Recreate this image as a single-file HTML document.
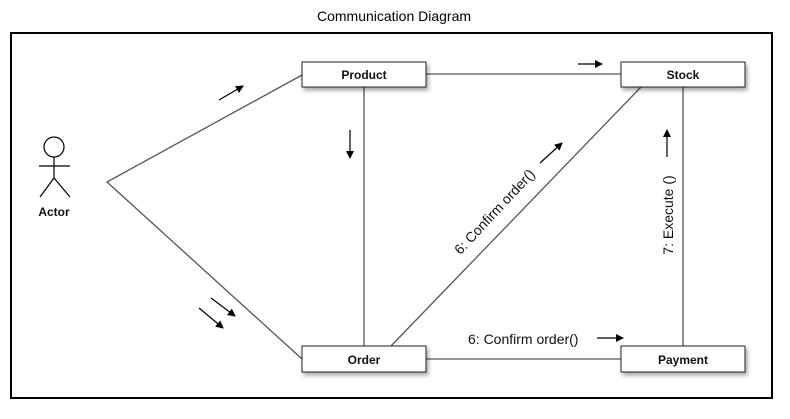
<!DOCTYPE html>
<html><head><style>
body{margin:0;background:#fff;}
svg{display:block;}
</style></head><body>
<svg width="790" height="419" xmlns="http://www.w3.org/2000/svg" font-family="Liberation Sans, sans-serif">
<defs>
<marker id="a" markerWidth="8" markerHeight="8" refX="7" refY="4" orient="auto" markerUnits="userSpaceOnUse"><path d="M0,0 L8,4 L0,8 z" fill="#000"/></marker>
<filter id="s" x="-10%" y="-20%" width="130%" height="160%"><feDropShadow dx="2" dy="3" stdDeviation="2" flood-color="#000" flood-opacity="0.35"/></filter>
</defs>
<text x="394" y="21" font-size="14" text-anchor="middle">Communication Diagram</text>
<rect x="11" y="33" width="761" height="365" fill="none" stroke="#000" stroke-width="2"/>
<g stroke="#555" stroke-width="1.3" fill="none">
<polyline points="302,75 107,182 302,359"/>
<line x1="426" y1="74" x2="621" y2="74"/>
<line x1="364" y1="87" x2="364" y2="346"/>
<line x1="391" y1="346" x2="641" y2="87"/>
<line x1="683" y1="87" x2="683" y2="346"/>
<line x1="426" y1="359" x2="621" y2="359"/>
</g>
<g fill="#fff" stroke="#222" stroke-width="1" filter="url(#s)">
<rect x="302" y="62" width="124" height="25"/>
<rect x="621" y="62" width="124" height="25"/>
<rect x="302" y="346" width="124" height="26"/>
<rect x="621" y="346" width="124" height="26"/>
</g>
<g font-size="12" font-weight="bold" text-anchor="middle" fill="#111">
<text x="364" y="79">Product</text>
<text x="683" y="79">Stock</text>
<text x="364" y="364">Order</text>
<text x="683" y="364">Payment</text>
<text x="54" y="216">Actor</text>
</g>
<g stroke="#000" stroke-width="1.2" fill="none">
<circle cx="54" cy="147" r="10" fill="#fff"/>
<line x1="54" y1="157" x2="54" y2="178"/>
<line x1="39" y1="166" x2="70" y2="166"/>
<line x1="54" y1="178" x2="40" y2="197"/>
<line x1="54" y1="178" x2="70" y2="197"/>
</g>
<g stroke="#000" stroke-width="1.2" marker-end="url(#a)">
<line x1="219" y1="100" x2="243" y2="86"/>
<line x1="578" y1="64" x2="602" y2="64"/>
<line x1="350" y1="130" x2="350" y2="158"/>
<line x1="540" y1="163" x2="562" y2="143"/>
<line x1="667" y1="157" x2="667" y2="130"/>
<line x1="597" y1="338" x2="623" y2="338"/>
<line x1="211" y1="298" x2="235" y2="316"/>
<line x1="199" y1="308" x2="223" y2="328"/>
</g>
<g font-size="14" fill="#111">
<text x="0" y="0" text-anchor="middle" transform="translate(498,215) rotate(-47)">6: Confirm order()</text>
<text x="0" y="0" text-anchor="middle" transform="translate(673,215) rotate(-90)">7: Execute ()</text>
<text x="468" y="344">6: Confirm order()</text>
</g>
</svg>
</body></html>
